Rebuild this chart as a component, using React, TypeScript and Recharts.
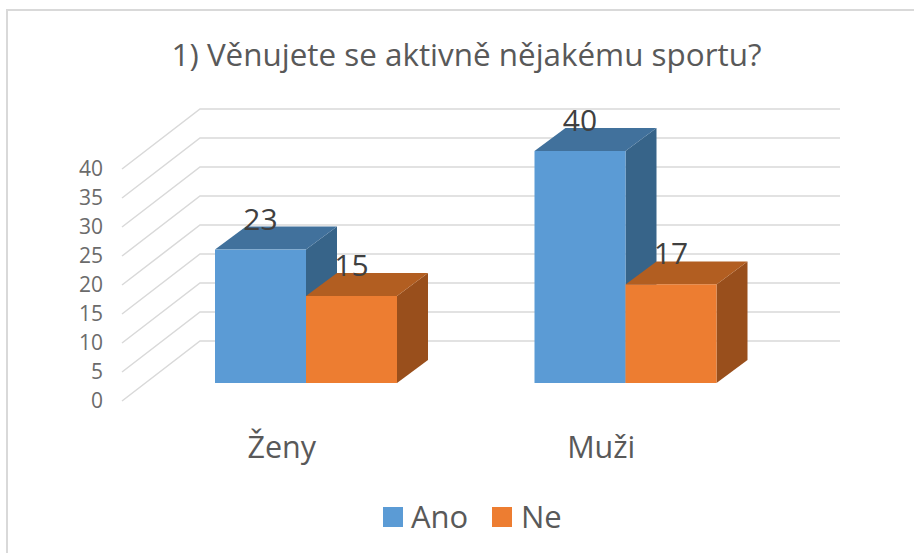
import React from 'react';
import { BarChart, Bar, XAxis, YAxis, CartesianGrid, Legend, LabelList } from 'recharts';

const categories = ['Ženy', 'Muži'];
const ano = [23, 40];
const ne = [15, 17];
const yTicks = [0, 5, 10, 15, 20, 25, 30, 35, 40];

const data = categories.map((name, i) => ({ name, Ano: ano[i], Ne: ne[i] }));

const FONT = '"Open Sans", sans-serif';
// 3D look: how far the bars and the back wall sit from the front plane
const BAR_SHIFT_X = 24;
const BAR_SHIFT_Y = -18;
const DEPTH_X = 31;
const DEPTH_Y = -23;
const WALL_X = 78;
const WALL_Y = -60;
const WALL_RIGHT = 840;

const Box = (colors: { front: string; top: string; side: string }) => (props: any) => {
  const { x, y, width, height } = props;
  const l = x + BAR_SHIFT_X;
  const r = l + width;
  const t = y + BAR_SHIFT_Y;
  const b = t + height;
  return (
    <g>
      <polygon points={`${r},${t} ${r + DEPTH_X},${t + DEPTH_Y} ${r + DEPTH_X},${b + DEPTH_Y} ${r},${b}`} fill={colors.side} />
      <polygon points={`${l},${t} ${l + DEPTH_X},${t + DEPTH_Y} ${r + DEPTH_X},${t + DEPTH_Y} ${r},${t}`} fill={colors.top} />
      <rect x={l} y={t} width={width} height={height} fill={colors.front} />
    </g>
  );
};

const ValueLabel = (props: any) => {
  const { x, y, width, value } = props;
  return (
    <text x={x + BAR_SHIFT_X + width / 2} y={y + BAR_SHIFT_Y - 20} textAnchor="middle" fontSize={30} fill="#404040" fontFamily={FONT}>
      {value}
    </text>
  );
};

const WallLine = (props: any) => {
  const { x1, y1, index } = props;
  return (
    <polyline
      key={`wall-${index}`}
      points={`${x1},${y1} ${x1 + WALL_X},${y1 + WALL_Y} ${WALL_RIGHT},${y1 + WALL_Y}`}
      fill="none"
      stroke="#d9d9d9"
      strokeWidth={1.5}
    />
  );
};

const LegendRow = () => (
  <div style={{ position: 'relative', height: 40, fontFamily: FONT, fontSize: 31, color: '#595959' }}>
    <span style={{ position: 'absolute', left: 383, top: 6, width: 20, height: 20, background: '#5B9BD5' }} />
    <span style={{ position: 'absolute', left: 411, top: -4, lineHeight: '38px' }}>Ano</span>
    <span style={{ position: 'absolute', left: 492, top: 6, width: 20, height: 20, background: '#ED7D31' }} />
    <span style={{ position: 'absolute', left: 521, top: -4, lineHeight: '38px' }}>Ne</span>
  </div>
);

export default function App() {
  return (
    <div style={{ position: 'absolute', left: 0, top: 0, width: 914, height: 553, background: '#fff', overflow: 'hidden' }}>
      <div style={{ position: 'absolute', left: 6, top: 9, right: 0, bottom: 0, borderLeft: '2px solid #d9d9d9', borderTop: '2px solid #d9d9d9' }} />
      <BarChart
        width={914}
        height={553}
        data={data}
        margin={{ top: 169, right: 153, left: 0, bottom: 12 }}
        barCategoryGap={69}
        barGap={0}
      >
        <text x={466.5} y={66} textAnchor="middle" fontSize={31.4} fill="#595959" fontFamily={FONT}>
          1) Věnujete se aktivně nějakému sportu?
        </text>
        <CartesianGrid horizontal={WallLine} vertical={false} />
        <XAxis
          dataKey="name"
          height={100}
          axisLine={false}
          tickLine={false}
          tickSize={0}
          tickMargin={35}
          tick={{ fontSize: 30.5, fill: '#595959', fontFamily: FONT }}
        />
        <YAxis
          width={122}
          domain={[0, 40]}
          ticks={yTicks}
          interval={0}
          axisLine={false}
          tickLine={false}
          tickSize={0}
          tickMargin={19}
          tick={{ fontSize: 21, fill: '#6b6b6b', fontFamily: FONT }}
        />
        <Legend verticalAlign="bottom" height={40} content={LegendRow} />
        <Bar dataKey="Ano" isAnimationActive={false} fill="#5B9BD5" shape={Box({ front: '#5B9BD5', top: '#41719C', side: '#376489' })}>
          <LabelList dataKey="Ano" content={ValueLabel} />
        </Bar>
        <Bar dataKey="Ne" isAnimationActive={false} fill="#ED7D31" shape={Box({ front: '#ED7D31', top: '#B25E21', side: '#994F1C' })}>
          <LabelList dataKey="Ne" content={ValueLabel} />
        </Bar>
      </BarChart>
    </div>
  );
}
